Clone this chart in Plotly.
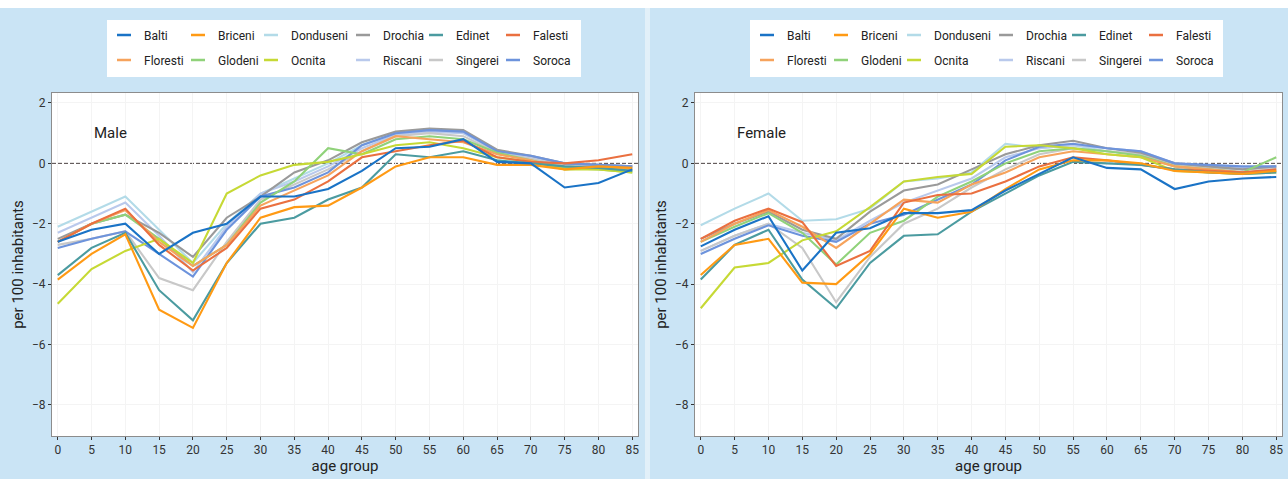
import plotly.graph_objects as go

# ---------------- data ----------------
age_groups = [0, 5, 10, 15, 20, 25, 30, 35, 40, 45, 50, 55, 60, 65, 70, 75, 80, 85]
districts = ["Balti", "Briceni", "Donduseni", "Drochia", "Edinet", "Falesti",
             "Floresti", "Glodeni", "Ocnita", "Riscani", "Singerei", "Soroca"]
district_colors = ["#1a73c6", "#ff9a14", "#b3dbe8", "#9a9a9a", "#4b9ba0", "#ea7040",
                   "#f6a35c", "#90d27a", "#c6d935", "#b9c9ec", "#c8c8c8", "#6d93dc"]

# Male, per 100 inhabitants
male_balti     = [-2.6, -2.2, -2.0, -3.0, -2.3, -2.0, -1.1, -1.1, -0.85, -0.25, 0.5, 0.55, 0.8, 0.05, 0.0, -0.8, -0.65, -0.2]
male_briceni   = [-3.85, -3.0, -2.35, -4.85, -5.45, -3.3, -1.8, -1.45, -1.4, -0.8, -0.1, 0.2, 0.2, -0.05, -0.05, -0.2, -0.1, -0.15]
male_donduseni = [-2.1, -1.6, -1.1, -2.2, -3.3, -2.0, -1.0, -0.5, 0.0, 0.6, 1.0, 1.1, 1.0, 0.4, 0.2, -0.05, -0.1, -0.2]
male_drochia   = [-2.5, -2.0, -1.7, -2.3, -3.1, -1.8, -1.1, -0.3, 0.1, 0.7, 1.05, 1.15, 1.1, 0.45, 0.25, 0.0, -0.05, -0.1]
male_edinet    = [-3.7, -2.8, -2.3, -4.2, -5.2, -3.3, -2.0, -1.8, -1.2, -0.8, 0.3, 0.2, 0.4, 0.1, 0.0, -0.1, -0.15, -0.25]
male_falesti   = [-2.6, -2.0, -1.5, -2.7, -3.55, -2.8, -1.5, -1.2, -0.6, 0.2, 0.4, 0.6, 0.75, 0.2, 0.05, 0.0, 0.1, 0.3]
male_floresti  = [-2.6, -2.0, -1.55, -2.6, -3.4, -2.7, -1.4, -0.9, -0.4, 0.4, 0.9, 0.8, 0.7, 0.3, 0.1, -0.2, -0.15, -0.2]
male_glodeni   = [-2.6, -2.0, -1.7, -2.5, -3.4, -2.7, -1.3, -0.6, 0.5, 0.3, 0.8, 0.9, 0.8, 0.35, 0.1, -0.15, -0.2, -0.3]
male_ocnita    = [-4.65, -3.5, -2.9, -2.5, -3.3, -1.0, -0.4, -0.05, 0.05, 0.3, 0.6, 0.7, 0.5, 0.2, 0.05, -0.2, -0.2, -0.3]
male_riscani   = [-2.3, -1.8, -1.3, -2.4, -3.6, -2.1, -1.0, -0.6, -0.1, 0.5, 0.95, 1.05, 1.0, 0.4, 0.2, 0.0, -0.05, -0.1]
male_singerei  = [-2.7, -2.5, -2.25, -3.8, -4.2, -2.6, -1.2, -0.7, -0.2, 0.4, 0.9, 1.0, 0.9, 0.35, 0.15, -0.1, -0.1, -0.15]
male_soroca    = [-2.8, -2.5, -2.25, -3.0, -3.75, -2.2, -1.1, -0.8, -0.3, 0.6, 1.0, 1.1, 1.05, 0.4, 0.25, 0.0, -0.05, -0.1]

# Female, per 100 inhabitants
female_balti     = [-2.75, -2.2, -1.75, -3.55, -2.3, -2.15, -1.65, -1.65, -1.55, -0.9, -0.35, 0.2, -0.15, -0.2, -0.85, -0.6, -0.5, -0.45]
female_briceni   = [-3.7, -2.7, -2.5, -3.95, -4.0, -3.0, -1.5, -1.8, -1.6, -0.85, -0.2, 0.1, 0.1, 0.0, -0.25, -0.3, -0.35, -0.25]
female_donduseni = [-2.05, -1.5, -1.0, -1.9, -1.85, -1.5, -0.6, -0.5, -0.3, 0.65, 0.5, 0.6, 0.4, 0.3, -0.1, -0.2, -0.3, -0.2]
female_drochia   = [-2.5, -2.0, -1.6, -2.2, -2.5, -1.6, -0.9, -0.7, -0.2, 0.3, 0.6, 0.75, 0.5, 0.35, 0.0, -0.1, -0.2, -0.1]
female_edinet    = [-3.85, -2.7, -2.2, -3.85, -4.8, -3.3, -2.4, -2.35, -1.6, -1.0, -0.4, 0.05, 0.0, -0.05, -0.2, -0.3, -0.35, -0.3]
female_falesti   = [-2.5, -1.9, -1.5, -1.95, -3.4, -2.9, -1.3, -1.05, -1.0, -0.6, -0.1, 0.2, 0.1, -0.05, -0.2, -0.25, -0.3, -0.2]
female_floresti  = [-2.6, -2.0, -1.55, -2.1, -2.8, -2.0, -1.2, -1.3, -0.7, -0.3, 0.2, 0.4, 0.3, 0.2, -0.1, -0.2, -0.3, -0.25]
female_glodeni   = [-2.6, -2.1, -1.65, -2.3, -3.35, -2.3, -1.9, -1.1, -0.6, 0.0, 0.4, 0.5, 0.4, 0.25, -0.1, -0.2, -0.3, 0.2]
female_ocnita    = [-4.8, -3.45, -3.3, -2.55, -2.25, -1.45, -0.6, -0.45, -0.35, 0.55, 0.6, 0.5, 0.3, 0.2, -0.25, -0.3, -0.35, -0.3]
female_riscani   = [-2.9, -2.4, -2.0, -2.3, -2.55, -1.9, -1.3, -0.9, -0.5, 0.2, 0.5, 0.6, 0.5, 0.4, 0.0, -0.1, -0.15, -0.1]
female_singerei  = [-2.9, -2.4, -2.0, -2.8, -4.6, -3.1, -2.0, -1.5, -0.8, -0.2, 0.3, 0.5, 0.4, 0.3, -0.05, -0.15, -0.2, -0.15]
female_soroca    = [-3.0, -2.5, -2.05, -2.4, -2.6, -2.0, -1.7, -1.2, -0.7, 0.1, 0.55, 0.65, 0.5, 0.4, 0.0, -0.05, -0.1, -0.1]

y_ticks = [2, 0, -2, -4, -6, -8]
x_ticks = age_groups

male_series = [male_balti, male_briceni, male_donduseni, male_drochia, male_edinet, male_falesti,
               male_floresti, male_glodeni, male_ocnita, male_riscani, male_singerei, male_soroca]
female_series = [female_balti, female_briceni, female_donduseni, female_drochia, female_edinet, female_falesti,
                 female_floresti, female_glodeni, female_ocnita, female_riscani, female_singerei, female_soroca]

# ---------------- figure ----------------
W, H = 1288, 479
ML, MR, MT, MB = 52, 6, 93, 43
PW = W - ML - MR
PH = H - MT - MB

def px_x(p):
    return (p - ML) / PW

def px_y(p):
    return 1 + (MT - p) / PH

FONT = "Roboto, 'Liberation Sans', Arial, sans-serif"

fig = go.Figure()

# legend column text start positions (px) for the left panel; right panel is offset
col_text_px = [143, 217, 290, 382, 455, 532]
panel_offset_px = [0, 643]

def legend_name(panel, col):
    n = panel * 6 + col + 1
    return "legend" if n == 1 else f"legend{n}"

# draw order: light ones first, strong ones on top
draw_order = [2, 9, 10, 3, 11, 7, 6, 8, 5, 4, 1, 0]

panels = [(male_series, "x", "y"), (female_series, "x2", "y2")]
for p, (series, xa, ya) in enumerate(panels):
    for i in draw_order:
        fig.add_trace(go.Scatter(
            x=age_groups, y=series[i], mode="lines", name=districts[i],
            line=dict(color=district_colors[i], width=2.1),
            legendgroup=f"p{p}-{districts[i]}", showlegend=False,
            xaxis=xa, yaxis=ya,
        ))
    # legend keys: short dash glyphs like the original key
    for i in range(12):
        fig.add_trace(go.Scatter(
            x=[None], y=[None], mode="markers", name=districts[i],
            marker=dict(symbol="line-ew", size=10, color=district_colors[i],
                        line=dict(color=district_colors[i], width=2.6)),
            legend=legend_name(p, i % 6),
            legendgroup=f"p{p}-{districts[i]}",
            legendrank=i + 1, showlegend=True,
            xaxis=xa, yaxis=ya, hoverinfo="skip",
        ))

axis_common = dict(
    showline=True, mirror=True, linecolor="#8c8c8c", linewidth=1,
    ticks="outside", ticklen=3, tickcolor="#333333", tickwidth=1,
    tickfont=dict(family=FONT, size=12, color="#333333"),
    zeroline=False,
)
x_extra = dict(showgrid=True, gridcolor="#f4f4f4", gridwidth=1)
y_extra = dict(showgrid=False,
               minor=dict(tickvals=[2, -2, -4, -6, -8], showgrid=True, gridcolor="#f4f4f4",
                          gridwidth=1, ticklen=0))

left_dom = [0, px_x(638)]
right_dom = [px_x(695), 1]
title_font = dict(family=FONT, size=15, color="#222222")

fig.update_layout(
    width=W, height=H,
    margin=dict(l=ML, r=MR, t=MT, b=MB),
    paper_bgcolor="#cae4f5",
    plot_bgcolor="#ffffff",
    showlegend=True,
    xaxis=dict(domain=left_dom, range=[-0.85, 85.85], tickvals=x_ticks, anchor="y",
               title=dict(text="age group", font=title_font, standoff=2),
               **axis_common, **x_extra),
    yaxis=dict(domain=[0, 1], range=[-9.03, 2.33], tickvals=y_ticks, anchor="x",
               title=dict(text="per 100 inhabitants", font=title_font, standoff=4),
               **axis_common, **y_extra),
    xaxis2=dict(domain=right_dom, range=[-0.85, 85.85], tickvals=x_ticks, anchor="y2",
                title=dict(text="age group", font=title_font, standoff=2),
                **axis_common, **x_extra),
    yaxis2=dict(domain=[0, 1], range=[-9.03, 2.33], tickvals=y_ticks, anchor="x2",
                title=dict(text="per 100 inhabitants", font=title_font, standoff=4),
                **axis_common, **y_extra),
)

legend_common = dict(
    orientation="v", bgcolor="rgba(0,0,0,0)", borderwidth=0,
    font=dict(family=FONT, size=12, color="#222222"),
    itemwidth=30, tracegroupgap=6, itemsizing="trace",
    xanchor="left", yanchor="middle", xref="paper", yref="paper",
    traceorder="grouped", itemclick=False, itemdoubleclick=False,
)
legend_layout = {}
for p in range(2):
    for c in range(6):
        legend_layout[legend_name(p, c)] = dict(
            x=px_x(col_text_px[c] + panel_offset_px[p] - 39), y=px_y(47.5), **legend_common)
fig.update_layout(**legend_layout)

shapes = []
# white top strip of the scanned figure
shapes.append(dict(type="rect", xref="paper", yref="paper", x0=px_x(0), x1=px_x(W),
                   y0=px_y(8), y1=px_y(0) + 0.02, fillcolor="#ffffff", line=dict(width=0), layer="below"))
# faint white divider between panels
shapes.append(dict(type="rect", xref="paper", yref="paper", x0=px_x(645), x1=px_x(650),
                   y0=px_y(H), y1=px_y(8), fillcolor="rgba(255,255,255,0.45)", line=dict(width=0), layer="below"))
# legend white boxes
for x0, x1 in [(107, 581), (750, 1223)]:
    shapes.append(dict(type="rect", xref="paper", yref="paper", x0=px_x(x0), x1=px_x(x1),
                       y0=px_y(77), y1=px_y(20), fillcolor="#ffffff", line=dict(width=0), layer="below"))
# dashed zero reference lines
for xr, yr in [("x", "y"), ("x2", "y2")]:
    shapes.append(dict(type="line", xref=f"{xr} domain", yref=yr, x0=0, x1=1, y0=0, y1=0,
                       line=dict(color="#4a4040", width=1, dash="4px,2px"), layer="below"))
fig.update_layout(shapes=shapes)

fig.add_annotation(x=5, y=1.0, xref="x", yref="y", text="Male", showarrow=False,
                   xanchor="left", yanchor="middle", font=title_font)
fig.add_annotation(x=5, y=1.0, xref="x2", yref="y2", text="Female", showarrow=False,
                   xanchor="left", yanchor="middle", font=title_font)

fig.write_html("out.html", config={"displayModeBar": False},
               post_script="document.body.style.margin='0';")
